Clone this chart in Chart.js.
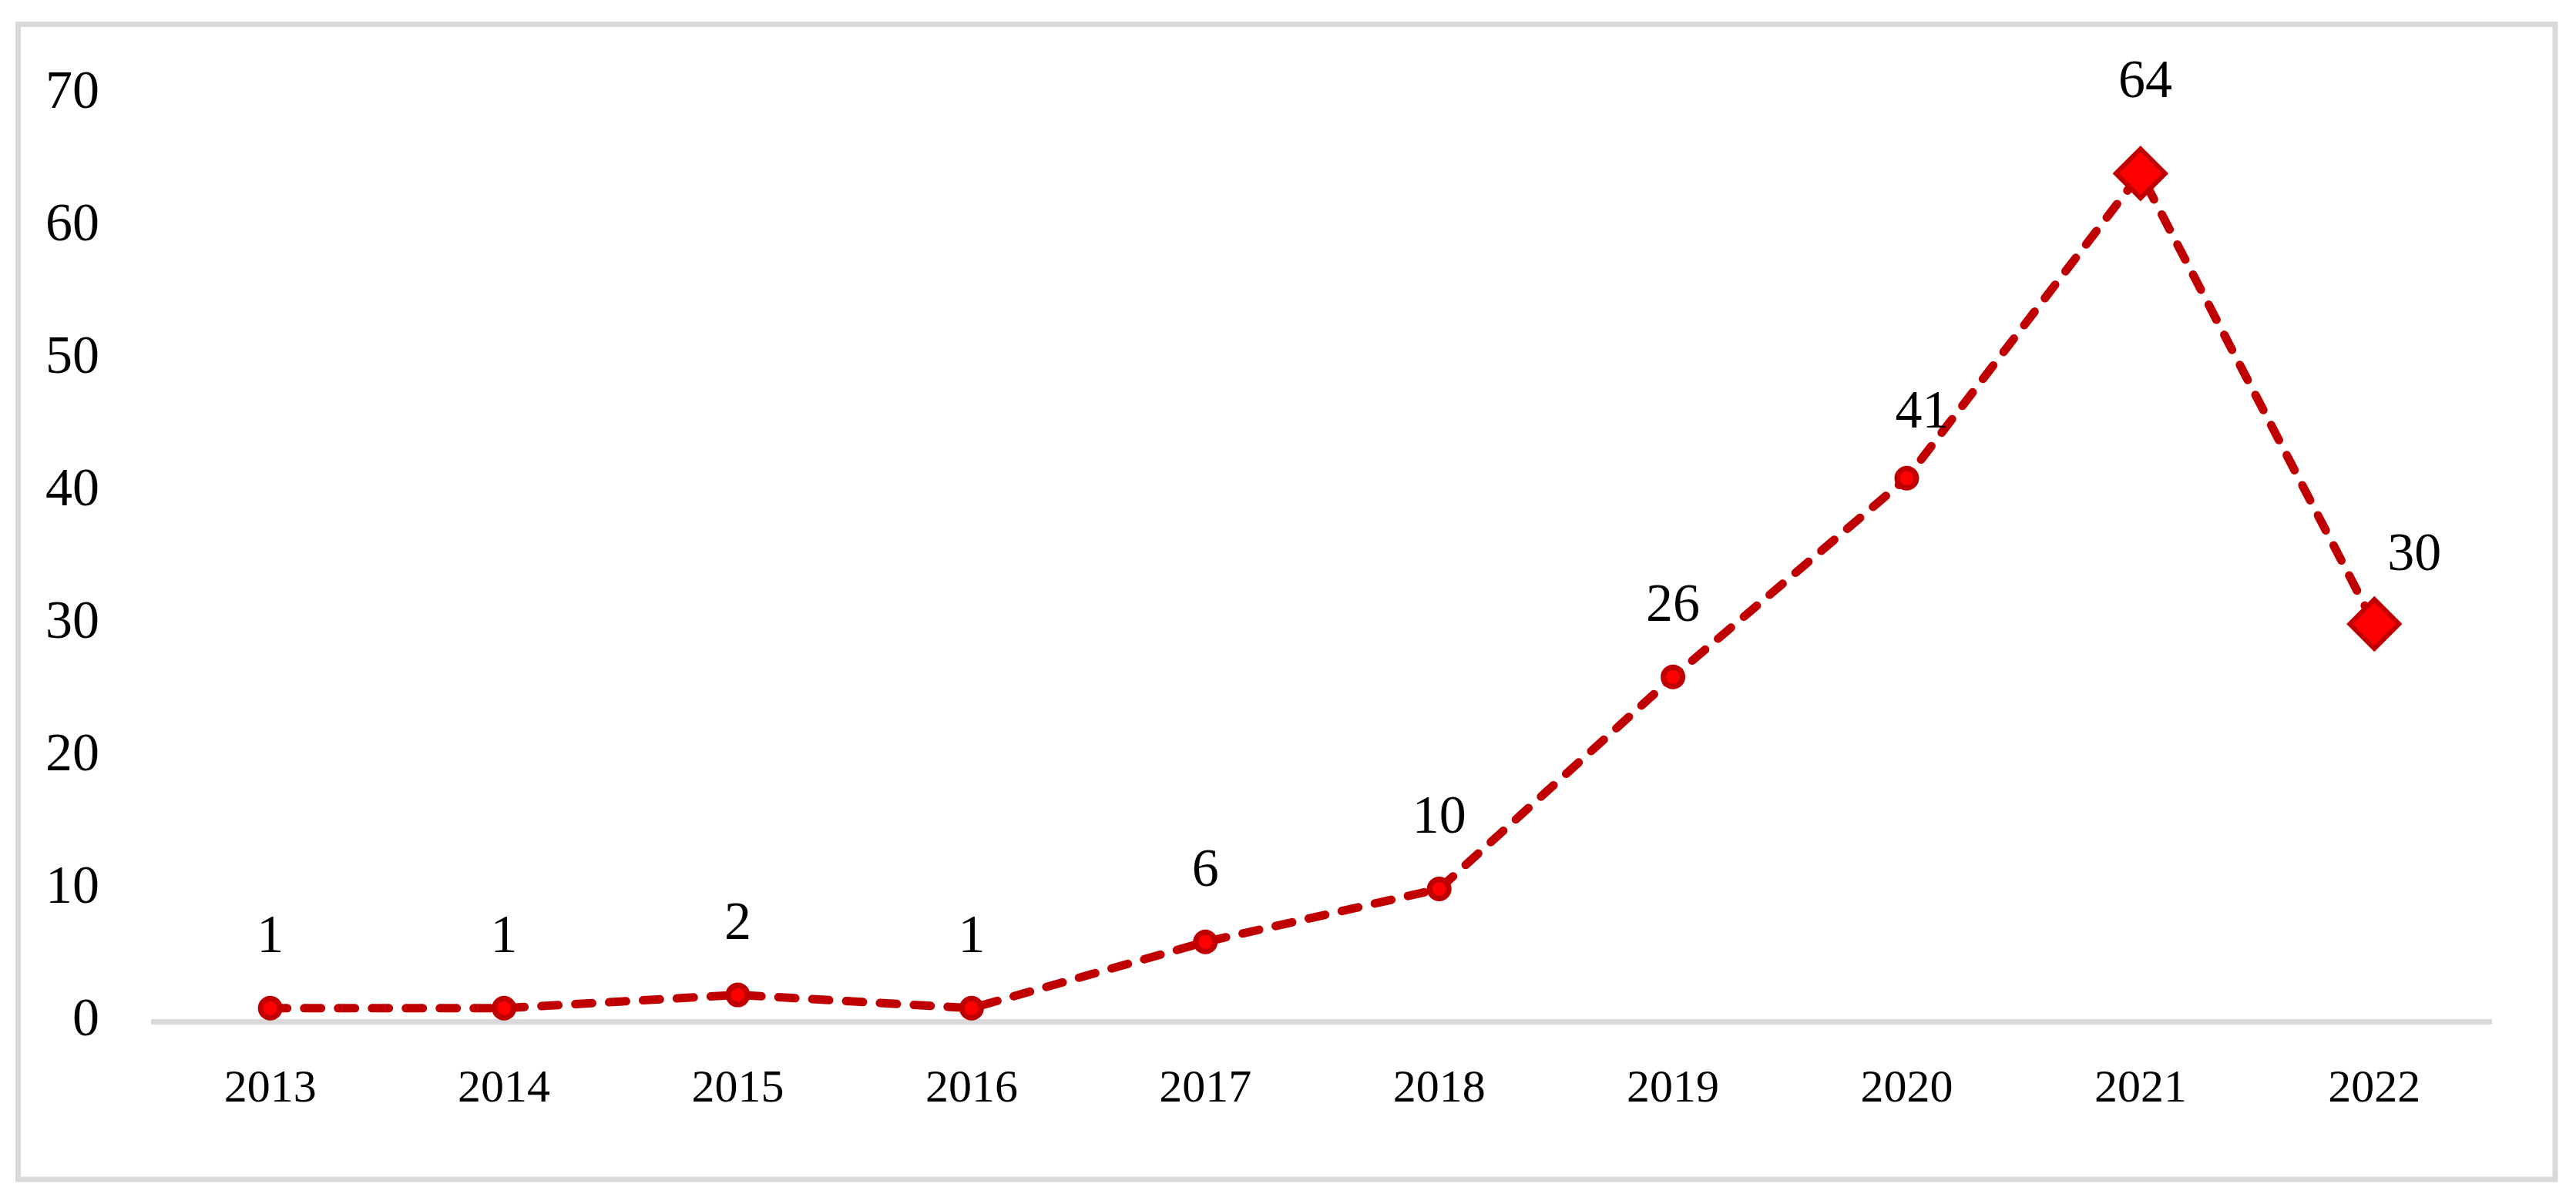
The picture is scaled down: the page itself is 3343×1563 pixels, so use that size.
<!DOCTYPE html>
<html>
<head>
<meta charset="utf-8">
<script src="https://cdn.jsdelivr.net/npm/chart.js@4/dist/chart.umd.min.js"></script>
<style>
  html, body { margin: 0; padding: 0; background: #ffffff; }
  #wrap { position: relative; width: 3343px; height: 1563px; }
  canvas { display: block; }
</style>
</head>
<body>
<div id="wrap"><canvas id="c" width="3343" height="1563"></canvas></div>
<script>
// ---- data ----
const years = ['2013', '2014', '2015', '2016', '2017', '2018', '2019', '2020', '2021', '2022'];
const counts = [1, 1, 2, 1, 6, 10, 26, 41, 64, 30];
const yTicks = [0, 10, 20, 30, 40, 50, 60, 70];

// ---- styling helpers (not data) ----
const RED_LINE = '#c00000';
const RED_FILL = '#ff0000';
const FONT = '"Liberation Serif", "Times New Roman", serif';
const pointStyles = years.map((_, i) => i >= 8 ? 'rectRot' : 'circle');
const pointRadii = years.map((_, i) => i >= 8 ? 32 : 12.5);
const labelOffsets = years.map((_, i) => {
  if (i === 7) return [20, -84];
  if (i === 8) return [6, -118];
  if (i === 9) return [52, -88];
  return [0, -91];
});

const framePlugin = {
  id: 'frame',
  beforeDraw(chart) {
    const ctx = chart.ctx;
    ctx.save();
    ctx.fillStyle = '#ffffff';
    ctx.fillRect(0, 0, chart.width, chart.height);
    ctx.strokeStyle = '#d9d9d9';
    ctx.lineWidth = 7;
    ctx.strokeRect(23.5, 31.5, 3316 - 23.5, 1531 - 31.5);
    ctx.restore();
  }
};

const dataLabelPlugin = {
  id: 'dataLabels',
  afterDatasetsDraw(chart) {
    const ctx = chart.ctx;
    const meta = chart.getDatasetMeta(0);
    const vals = chart.data.datasets[0].data;
    ctx.save();
    ctx.font = '70px ' + FONT;
    ctx.fillStyle = '#000000';
    ctx.textAlign = 'center';
    ctx.textBaseline = 'middle';
    meta.data.forEach((pt, i) => {
      const off = labelOffsets[i];
      ctx.fillText(String(vals[i]), pt.x + off[0], pt.y + off[1]);
    });
    ctx.restore();
  }
};

new Chart(document.getElementById('c'), {
  type: 'line',
  data: {
    labels: years,
    datasets: [{
      data: counts,
      borderColor: RED_LINE,
      borderWidth: 11,
      borderDash: [22, 22],
      borderCapStyle: 'round',
      borderJoinStyle: 'round',
      fill: false,
      tension: 0,
      pointStyle: pointStyles,
      pointRadius: pointRadii,
      pointBackgroundColor: RED_FILL,
      pointBorderColor: RED_LINE,
      pointBorderWidth: years.map((_, i) => i >= 8 ? 6 : 7),
      pointHoverRadius: pointRadii
    }]
  },
  options: {
    responsive: false,
    devicePixelRatio: 1,
    animation: false,
    events: [],
    layout: { padding: { left: 0, top: 122, right: 110, bottom: 0 } },
    plugins: {
      legend: { display: false },
      tooltip: { enabled: false },
      title: { display: false }
    },
    scales: {
      x: {
        offset: true,
        grid: { display: false, drawTicks: false },
        border: { display: true, color: '#d9d9d9', width: 7 },
        ticks: {
          color: '#000000',
          font: { family: FONT, size: 60 },
          padding: 52,
          maxRotation: 0,
          autoSkip: false
        },
        afterFit(scale) { scale.height = 237; }
      },
      y: {
        min: 0,
        max: 70,
        grid: { display: false, drawTicks: false },
        border: { display: false },
        afterBuildTicks(scale) { scale.ticks = yTicks.map(v => ({ value: v })); },
        ticks: {
          color: '#000000',
          font: { family: FONT, size: 70 },
          padding: 70
        },
        afterFit(scale) { scale.width = 199; }
      }
    }
  },
  plugins: [framePlugin, dataLabelPlugin]
});
</script>
</body>
</html>
